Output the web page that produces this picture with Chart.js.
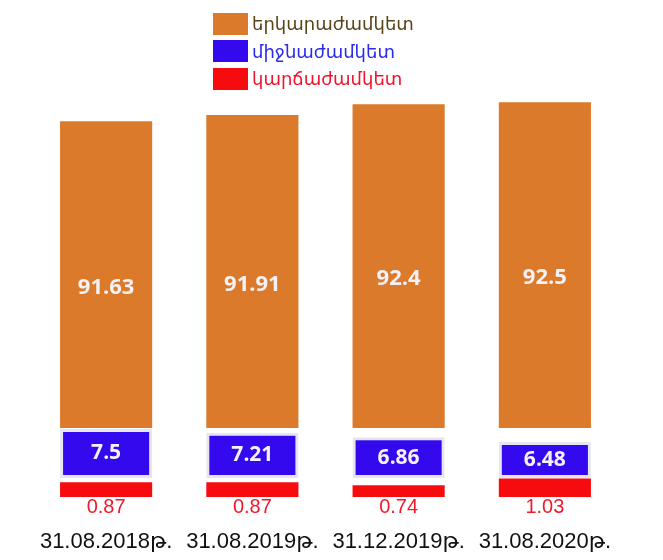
<!DOCTYPE html>
<html lang="hy">
<head>
<meta charset="utf-8">
<title>Պարտքի կառուցվածքն ըստ մարման ժամկետի</title>
<script src="https://cdn.jsdelivr.net/npm/chart.js@4.4.1/dist/chart.umd.min.js"></script>
<style>
	html, body { margin: 0; padding: 0; background: #fff; }
	#wrap { position: relative; width: 663px; height: 560px; }
	#legend { position: absolute; left: 213px; top: 10px; font-family: "DejaVu Sans", sans-serif; font-size: 18px; }
	#legend .item { display: flex; align-items: center; height: 27.5px; }
	#legend .box { width: 35px; height: 22px; margin-right: 4px; }
</style>
</head>
<body>
<div id="wrap">
	<canvas id="debtChart" width="663" height="560"></canvas>
	<div id="legend"></div>
</div>
<script>
var periods = ['31.08.2018թ.', '31.08.2019թ.', '31.12.2019թ.', '31.08.2020թ.'];
var longTerm = [91.63, 91.91, 92.4, 92.5];
var midTerm = [7.5, 7.21, 6.86, 6.48];
var shortTerm = [0.87, 0.87, 0.74, 1.03];
var seriesNames = ['երկարաժամկետ', 'միջնաժամկետ', 'կարճաժամկետ'];

// each series sits on its own stacked value axis (broken scale, like the picture)
var longRange = [77.55, 92.83];
var midRange = [3.64, 7.58];
var shortRange = [0.24, 1.05];

var orange = '#dc7a2b';
var blue = '#3409ee';
var red = '#f60b0f';

// legend: one row per series, text in series colour
var legendColors = [
	{ box: orange, text: '#5b4418' },
	{ box: blue, text: '#2b2bee' },
	{ box: red, text: '#f0142a' }
];
var legend = document.getElementById('legend');
seriesNames.forEach(function (name, i) {
	var row = document.createElement('div');
	row.className = 'item';
	var box = document.createElement('span');
	box.className = 'box';
	box.style.background = legendColors[i].box;
	var txt = document.createElement('span');
	txt.textContent = name;
	txt.style.color = legendColors[i].text;
	row.appendChild(box);
	row.appendChild(txt);
	legend.appendChild(row);
});

// draws the value of every bar on or under it
var valueLabels = {
	id: 'valueLabels',
	afterDatasetsDraw: function (chart) {
		var ctx = chart.ctx;
		ctx.save();
		ctx.textAlign = 'center';
		ctx.textBaseline = 'middle';
		chart.data.datasets.forEach(function (ds, i) {
			var meta = chart.getDatasetMeta(i);
			meta.data.forEach(function (bar, j) {
				var y;
				if (ds.labelPlace === 'below') {
					y = bar.base + 10;
				} else {
					y = (bar.y + bar.base) / 2 + (ds.labelShift || 0);
				}
				ctx.font = ds.labelFont;
				ctx.fillStyle = ds.labelColor;
				ctx.fillText(String(ds.data[j]), bar.x, y);
			});
		});
		ctx.restore();
	}
};

function drawChart() {
	var ctx = document.getElementById('debtChart').getContext('2d');
	new Chart(ctx, {
		type: 'bar',
		data: {
			labels: periods,
			datasets: [{
				label: seriesNames[0],
				data: longTerm,
				yAxisID: 'yLong',
				base: longRange[0],
				backgroundColor: orange,
				borderWidth: 0,
				labelFont: 'bold 22px "Open Sans", sans-serif',
				labelColor: '#f4f2f6',
				labelShift: 13
			}, {
				label: seriesNames[1],
				data: midTerm,
				yAxisID: 'yMid',
				base: midRange[0],
				backgroundColor: blue,
				borderColor: '#e6e6f2',
				borderWidth: 3,
				borderSkipped: false,
				labelFont: 'bold 21px "Open Sans", sans-serif',
				labelColor: '#f4f2f8'
			}, {
				label: seriesNames[2],
				data: shortTerm,
				yAxisID: 'yShort',
				base: shortRange[0],
				backgroundColor: red,
				borderWidth: 0,
				labelFont: '20px "Liberation Sans", sans-serif',
				labelColor: '#f0192b',
				labelPlace: 'below'
			}]
		},
		options: {
			responsive: false,
			animation: false,
			layout: { padding: { top: 95, bottom: 8, left: 33, right: 45 } },
			datasets: {
				bar: { grouped: false, barPercentage: 0.63, categoryPercentage: 1 }
			},
			scales: {
				x: {
					offset: true,
					grid: { display: false, drawTicks: false },
					border: { display: false },
					ticks: {
						color: '#111',
						padding: 32,
						maxRotation: 0,
						autoSkip: false,
						font: { family: '"Liberation Sans", "DejaVu Sans", sans-serif', size: 22 }
					},
					afterFit: function (scale) {
						scale.height = 55;
					}
				},
				yShort: { type: 'linear', position: 'left', stack: 'parts', stackWeight: 19, min: shortRange[0], max: shortRange[1], display: false },
				yMid: { type: 'linear', position: 'left', stack: 'parts', stackWeight: 50, min: midRange[0], max: midRange[1], display: false },
				yLong: { type: 'linear', position: 'left', stack: 'parts', stackWeight: 333, min: longRange[0], max: longRange[1], display: false }
			},
			plugins: {
				legend: { display: false },
				tooltip: { enabled: false }
			}
		},
		plugins: [valueLabels]
	});
}

Promise.all([
	document.fonts.load('bold 22px "Open Sans"'),
	document.fonts.load('20px "Liberation Sans"'),
	document.fonts.load('22px "DejaVu Sans"', 'թ')
]).then(drawChart, drawChart);
</script>
</body>
</html>
